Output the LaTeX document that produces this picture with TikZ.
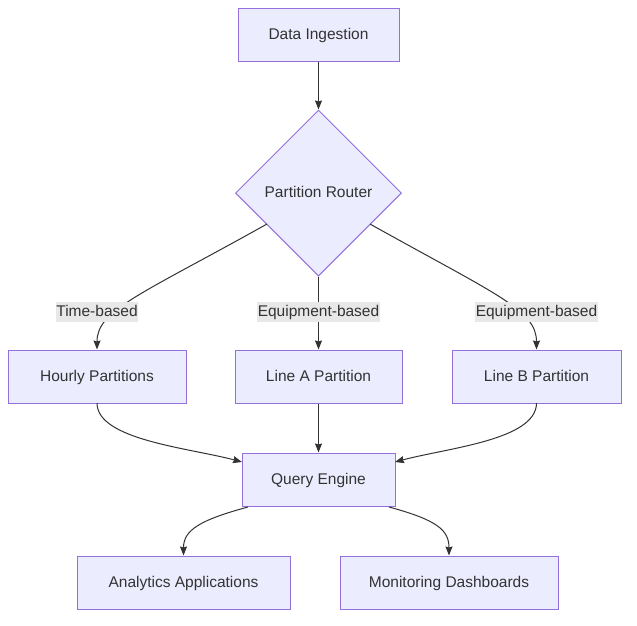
\documentclass[tikz,border=0pt]{standalone}
\usepackage{fontspec}
\setmainfont{Liberation Sans}
\usetikzlibrary{shapes.geometric,arrows.meta}
\definecolor{nodefill}{HTML}{ECECFF}
\definecolor{nodestroke}{HTML}{9370DB}
\definecolor{edgecol}{HTML}{333333}
\definecolor{lblbg}{HTML}{E8E8E8}
\definecolor{txt}{HTML}{333333}
\begin{document}
\begin{tikzpicture}[x=1pt,y=-1pt,
  every node/.style={font=\fontsize{15.5}{18}\selectfont, text=txt},
  box/.style={draw=nodestroke, fill=nodefill, line width=1pt, minimum height=53pt, inner sep=0pt, text height=11.5pt, text depth=2.5pt},
  decision/.style={draw=nodestroke, fill=nodefill, line width=1pt, diamond, minimum width=166pt, minimum height=166pt, inner sep=0pt, text height=11.5pt, text depth=2.5pt},
  lbl/.style={fill=lblbg, inner xsep=0.5pt, inner ysep=0pt, minimum height=20pt, text height=11.5pt, text depth=3pt},
  edge/.style={draw=edgecol, line width=1pt, -{Stealth[length=9pt,width=7pt,inset=1pt]}}
]
\useasboundingbox (0,0) rectangle (637,625);

\node[box, minimum width=161pt] (ing) at (318.5,34.5) {Data Ingestion};
\node[decision] (router) at (318.5,193) {Partition Router};
\node[box, minimum width=178pt] (hour) at (97,376.5) {Hourly Partitions};
\node[box, minimum width=167pt] (linea) at (318.5,376.5) {Line A Partition};
\node[box, minimum width=169pt] (lineb) at (536.5,376.5) {Line B Partition};
\node[box, minimum width=153pt] (query) at (318.5,479.5) {Query Engine};
\node[box, minimum width=213pt] (ana) at (183.5,582.5) {Analytics Applications};
\node[box, minimum width=218pt] (mon) at (449,582.5) {Monitoring Dashboards};

\coordinate (rl) at (267,224);
\coordinate (rr) at (370,224);
\coordinate (hl) at (97,403);
\coordinate (lbr) at (536.5,403);
\coordinate (qin1) at (242,462);
\coordinate (qin2) at (395,462);
\coordinate (qo1) at (248,507);
\coordinate (qo2) at (389,507);

\draw[edge] (ing) -- (router);
\draw[edge] (rl) .. controls (140,295) and (97,310) .. (hour.north);
\draw[edge] (router) -- (linea);
\draw[edge] (rr) .. controls (497,295) and (536.5,310) .. (lineb.north);
\draw[edge] (hl) .. controls (97,440) and (190,448) .. (qin1);
\draw[edge] (linea) -- (query);
\draw[edge] (lbr) .. controls (536.5,440) and (447,448) .. (qin2);
\draw[edge] (qo1) .. controls (200,520) and (183.5,530) .. (ana.north);
\draw[edge] (qo2) .. controls (437,520) and (449,530) .. (mon.north);

\node[lbl] (l1) at (97,312) {Time-based};
\node[lbl] (l2) at (318.5,312) {Equipment-based};
\node[lbl] (l3) at (536.5,312) {Equipment-based};
\end{tikzpicture}
\end{document}
